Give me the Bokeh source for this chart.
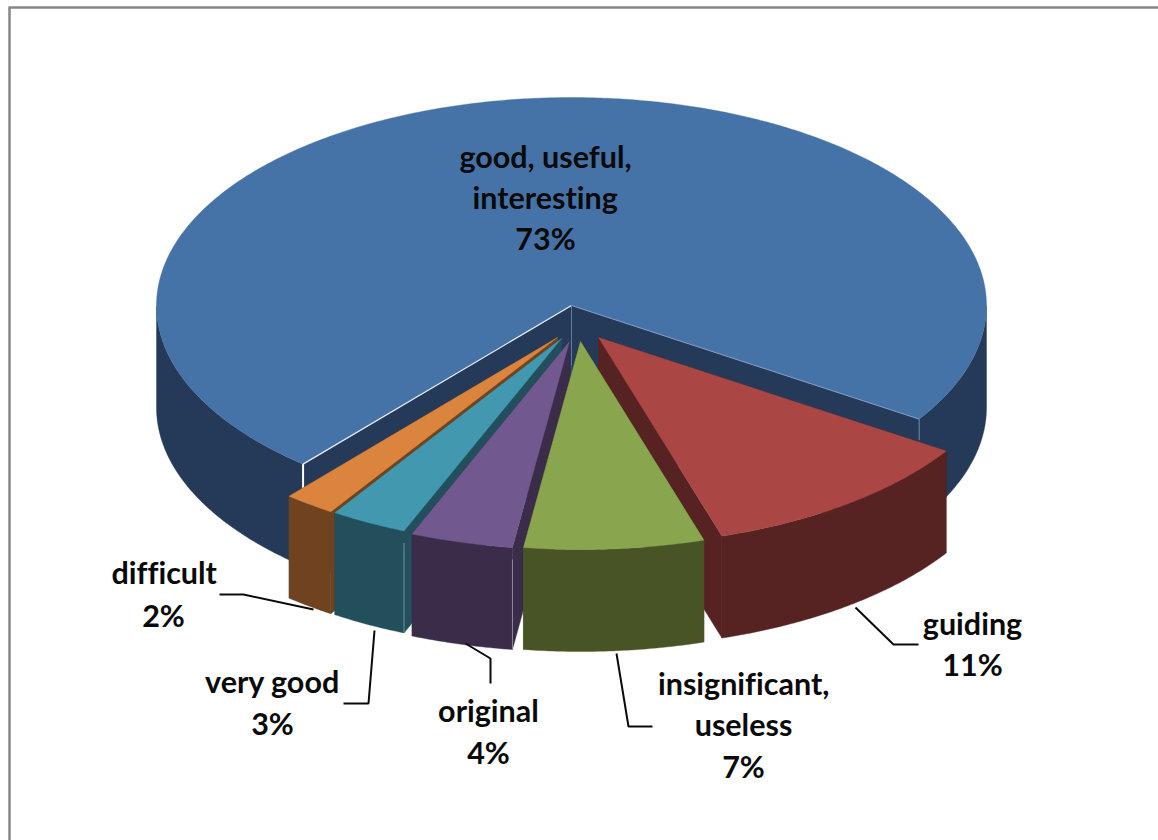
import numpy as np
from bokeh.plotting import figure
from bokeh.models import Range1d
from bokeh.core.properties import value
from bokeh.embed import file_html
from bokeh.resources import INLINE

# ---- data ----
categories = ["good, useful, interesting", "guiding", "insignificant, useless",
              "original", "very good", "difficult"]
label_lines = [["good, useful,", "interesting"], ["guiding"], ["insignificant,", "useless"],
               ["original"], ["very good"], ["difficult"]]
shares = [73, 11, 7, 4, 3, 2]

# ---- styles ----
top_colors = ["#4673A7", "#AA4643", "#89A54E", "#71588F", "#4198AF", "#DB843D"]
side_colors = ["#243A58", "#572322", "#495426", "#3B2C4A", "#234E5C", "#6F4320"]
seam_colors = [None, None, None, "#8C8A9C", "#6E98A2", None]

# ---- layout (page pixels) ----
CX, CY, RX, RY, DEPTH = 571.0, 305.0, 415.0, 208.0, 102.0
START_DEG = 130.3          # where the first slice begins, clockwise on screen
explode = [(0, 0), (27, 32), (9, 36), (-2, 36), (-10, 33), (-14, 32)]
draw_order = [0, 1, 5, 4, 3, 2]
label_pos = [(545, 155, 41), (972, 622, 41), (743, 682, 41.5), (488, 709, 42),
             (272, 680, 42), (163, 571, 43)]
leaders = [None,
           ([918, 893, 855], [644, 644, 607]),
           ([652, 628, 616], [726, 726, 653]),
           ([490, 490, 465], [683, 658, 643]),
           ([343, 368, 374], [703, 703, 630]),
           ([219, 243, 313], [594, 594, 609])]

p = figure(width=1158, height=840, x_range=Range1d(0, 1158), y_range=Range1d(840, 0),
           output_backend="svg", toolbar_location=None, min_border=0,
           outline_line_color=None, background_fill_color="white",
           styles={"font-variant-ligatures": "none"})
p.axis.visible = False
p.grid.visible = False

# angles derived from the values
spans = [s / sum(shares) * 360.0 for s in shares]
starts, a = [], START_DEG
for sp in spans:
    starts.append(a)
    a += sp


def rim(cx, cy, a0, a1, n=None):
    n = n or max(int(abs(a1 - a0)) * 2, 4)
    t = np.radians(np.linspace(a0, a1, n))
    return cx + RX * np.cos(t), cy + RY * np.sin(t)


def fill(xs, ys, color):
    p.patch(list(xs), list(ys), fill_color=color, line_color=color, line_width=0.4)


def wall(cx, cy, a0, a1, color):
    x, y = rim(cx, cy, a0, a1)
    fill(np.r_[x, x[::-1]], np.r_[y, y[::-1] + DEPTH], color)


def visible_ranges(a0, a1):
    out = []
    for k in (0, 1):
        lo, hi = max(a0, k * 360.0), min(a1, k * 360.0 + 180.0)
        if hi > lo:
            out.append((lo, hi))
    return out


for i in draw_order:
    cx, cy = CX + explode[i][0], CY + explode[i][1]
    a0, a1 = starts[i], starts[i] + spans[i]
    xa, ya = rim(cx, cy, a0, a0, 2)
    xb, yb = rim(cx, cy, a1, a1, 2)
    for px, py in ((xa[0], ya[0]), (xb[0], yb[0])):
        fill([cx, px, px, cx], [cy, py, py + DEPTH, cy + DEPTH], side_colors[i])
    for lo, hi in visible_ranges(a0, a1):
        wall(cx, cy, lo, hi, side_colors[i])
    x, y = rim(cx, cy, a0, a1)
    fill(np.r_[cx, x], np.r_[cy, y], top_colors[i])

    if seam_colors[i]:
        p.line([xa[0], xa[0]], [ya[0] + 12, ya[0] + DEPTH], line_color=seam_colors[i], line_width=1)

    if i == 0:  # pale seams of the large slice
        p.line([cx, xa[0]], [cy, ya[0]], line_color="#E6ECF3", line_width=1.2)
        p.line([xa[0], xa[0]], [ya[0], ya[0] + 27], line_color="white", line_width=2)
        p.line([cx, xb[0]], [cy, yb[0]], line_color="#7E9CC0", line_width=1)
        p.line([xb[0], xb[0]], [yb[0], yb[0] + 21], line_color="#6F8BA8", line_width=1)
        p.line([cx, cx], [cy, cy + 60], line_color="#5F7C9F", line_width=1)

# leader lines
for seg in leaders:
    if seg:
        p.line(seg[0], seg[1], line_color="#0A0A0A", line_width=2)

# labels
font = value("Lato")
for lines, share, (lx, ly, step) in zip(label_lines, shares, label_pos):
    texts = lines + [f"{share}%"]
    ys = [ly + k * step for k in range(len(texts))]
    p.text([lx] * len(texts), ys, text=texts, text_font=font, text_font_size="30.5px",
           text_font_style="bold", text_align="center", text_baseline="middle",
           text_color="#0A0A0A")

# chart-area frame: its top and left edges are in the picture
p.line([9, 9], [840, 7], line_color="#868686", line_width=2.5)
p.line([8, 1158], [7, 7], line_color="#868686", line_width=2.5)

open("out.html", "w").write(file_html(p, INLINE))
